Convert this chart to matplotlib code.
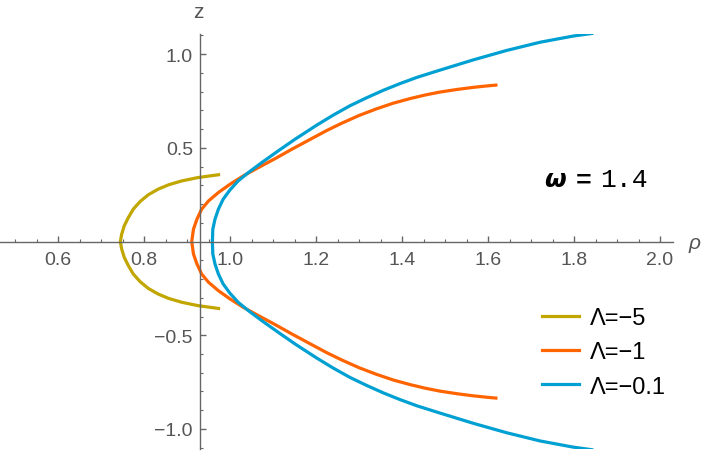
import matplotlib
matplotlib.use('Agg')
import matplotlib.pyplot as plt
from matplotlib.lines import Line2D

# upper half of each curve (rho, z); curves are symmetric in z
RHO_L5 = [0.745, 0.748, 0.754, 0.7635, 0.775, 0.791, 0.810, 0.833, 0.857, 0.888,
          0.926, 0.977]
Z_L5 = [0.0, 0.039, 0.084, 0.128, 0.173, 0.214, 0.250, 0.280, 0.303, 0.324,
        0.342, 0.358]

RHO_L1 = [0.911, 0.915, 0.923, 0.934, 0.950, 0.973, 1.000, 1.031, 1.066, 1.105,
          1.143, 1.186, 1.225, 1.260, 1.300, 1.340, 1.380, 1.420, 1.455, 1.488,
          1.528, 1.565, 1.598, 1.622]
Z_L1 = [0.0, 0.066, 0.119, 0.173, 0.217, 0.262, 0.306, 0.351, 0.395, 0.443,
        0.492, 0.545, 0.593, 0.632, 0.673, 0.708, 0.739, 0.764, 0.783, 0.798,
        0.812, 0.823, 0.831, 0.836]

RHO_L01 = [0.959, 0.960, 0.965, 0.973, 0.984, 1.000, 1.019, 1.043, 1.074, 1.112,
           1.151, 1.202, 1.240, 1.279, 1.318, 1.357, 1.395, 1.434, 1.488, 1.566,
           1.643, 1.721, 1.798, 1.845]
Z_L01 = [0.0, 0.066, 0.119, 0.173, 0.226, 0.276, 0.324, 0.369, 0.422, 0.484,
         0.546, 0.622, 0.675, 0.725, 0.768, 0.808, 0.843, 0.876, 0.915, 0.970,
         1.020, 1.064, 1.097, 1.112]

LABELS = ['Λ=−5', 'Λ=−1', 'Λ=−0.1']
COLORS = ['#c2a600', '#ff6400', '#00a0d2']

X_TICKS = [0.6, 0.8, 1.0, 1.2, 1.4, 1.6, 1.8, 2.0]
Y_TICKS = [-1.0, -0.5, 0.5, 1.0]
Y_TICK_LABELS = ['−1.0', '−0.5', '0.5', '1.0']

plt.rcParams['font.family'] = ['Liberation Sans', 'DejaVu Sans']


def mirror(rho, z):
    return rho[::-1] + rho[1:], [-v for v in z[::-1]] + z[1:]


def create_graph():
    W, H = 702, 452
    fig = plt.figure(figsize=(W / 100, H / 100), dpi=100)
    ax = fig.add_axes([0, 2 / H, 673 / W, 415 / H])

    curves = [(RHO_L5, Z_L5), (RHO_L1, Z_L1), (RHO_L01, Z_L01)]
    for (rho, z), color in zip(curves, COLORS):
        r, zz = mirror(rho, z)
        ax.plot(r, zz, color=color, linewidth=2.3, solid_capstyle='butt',
                solid_joinstyle='round')

    ax.set_xlim(0.4651, 2.0302)
    ax.set_ylim(-1.107, 1.108)

    gray = '#666666'
    for side in ('top', 'right'):
        ax.spines[side].set_visible(False)
    ax.spines['left'].set_position(('data', 0.93))
    ax.spines['bottom'].set_position(('data', 0))
    for side in ('left', 'bottom'):
        ax.spines[side].set_color(gray)
        ax.spines[side].set_linewidth(1.0)

    ax.set_xticks(X_TICKS)
    ax.set_xticklabels(['%.1f' % v for v in X_TICKS])
    ax.set_xticks([v / 100 for v in range(50, 205, 5)], minor=True)
    ax.set_yticks(Y_TICKS)
    ax.set_yticklabels(Y_TICK_LABELS)
    ax.set_yticks([v / 10 for v in range(-11, 12) if v % 5], minor=True)

    ax.tick_params(which='both', direction='in', color=gray, labelcolor='#555555',
                   labelsize=14)
    ax.tick_params(axis='x', which='major', length=4.5, width=1.0, pad=7)
    ax.tick_params(axis='y', which='major', length=4.5, width=1.0, pad=5)
    ax.tick_params(which='minor', length=2.5, width=0.8)
    ax.patch.set_alpha(0)

    fig.text(198 / W, 1 - 13 / H, 'z', color='#555555', fontsize=15,
             ha='center', va='center')
    fig.text(695 / W, 1 - 244 / H, 'ρ', color='#555555', fontsize=15,
             style='italic', ha='center', va='center')

    # omega annotation: bold italic symbol, then typewriter-style "= 1.4"
    ax.text(1.730, 0.295, 'ω', fontsize=18, fontweight='bold', style='italic',
            family='DejaVu Sans', va='baseline', ha='left')
    ax.text(1.803, 0.295, '=', fontsize=19, fontweight='bold',
            family='Liberation Mono', va='baseline', ha='left')
    ax.text(1.8605, 0.295, '1.4', fontsize=19, family='Liberation Mono',
            va='baseline', ha='left')

    handles = [Line2D([], [], color=c, linewidth=2.3) for c in COLORS]
    ax.legend(handles, LABELS, loc='upper left', frameon=False, fontsize=17,
              bbox_to_anchor=(541.7 / W, 1 - 308 / H), bbox_transform=fig.transFigure,
              handlelength=1.56, handletextpad=0.5, labelspacing=0.52,
              borderpad=0, borderaxespad=0)

    fig.savefig('out.png', dpi=100)


if __name__ == '__main__':
    create_graph()
